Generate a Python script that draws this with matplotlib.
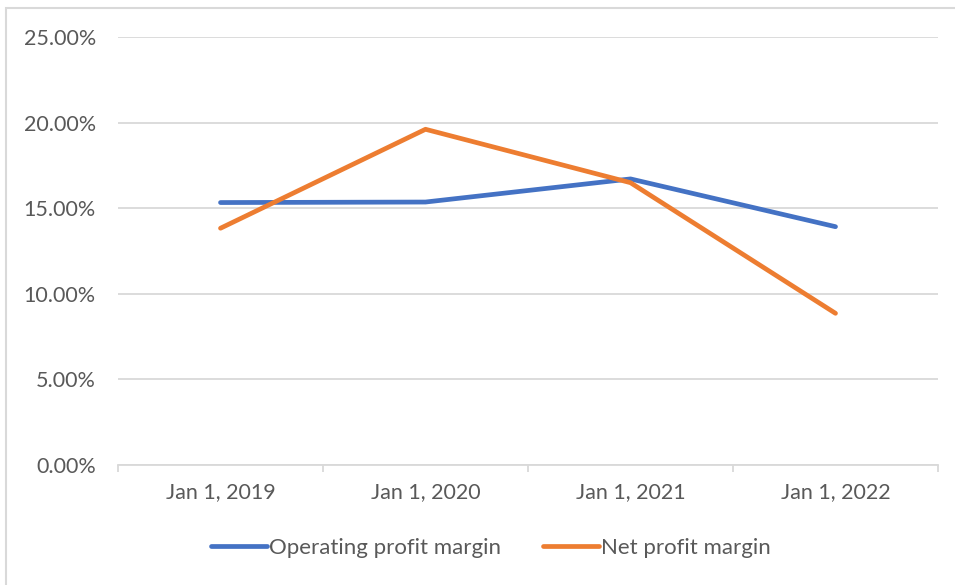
import matplotlib.pyplot as plt
from matplotlib.ticker import FuncFormatter, FixedLocator
from matplotlib.patches import Rectangle

# values (percent)
dates = ['Jan 1, 2019', 'Jan 1, 2020', 'Jan 1, 2021', 'Jan 1, 2022']
operating_margin = [15.33, 15.36, 16.71, 13.92]
net_margin = [13.83, 19.61, 16.49, 8.86]

GRID = '#d9d9d9'
TEXT = '#595959'
FS = 15.5

plt.rcParams['font.family'] = ['Lato', 'DejaVu Sans']

fig = plt.figure(figsize=(9.55, 5.85), dpi=100)
ax = fig.add_axes([118 / 955, 1 - 465 / 585, 820 / 955, 428 / 585])

x = list(range(len(dates)))
ax.plot(x, operating_margin, color='#4472C4', lw=3.4, solid_capstyle='round',
        solid_joinstyle='round', label='Operating profit margin')
ax.plot(x, net_margin, color='#ED7D31', lw=3.4, solid_capstyle='round',
        solid_joinstyle='round', label='Net profit margin')

ax.set_xlim(-0.5, len(dates) - 0.5)
ax.set_ylim(0, 25)
ax.set_yticks([0, 5, 10, 15, 20, 25])
ax.yaxis.set_major_formatter(FuncFormatter(lambda v, p: f'{v:.2f}%'))
ax.set_xticks(x)
ax.set_xticklabels(dates)
ax.xaxis.set_minor_locator(FixedLocator([i - 0.5 for i in range(len(dates) + 1)]))

ax.grid(axis='y', color=GRID, lw=1.3)
ax.set_axisbelow(True)
for side in ['top', 'right', 'left']:
    ax.spines[side].set_visible(False)
ax.spines['bottom'].set_color(GRID)
ax.spines['bottom'].set_linewidth(1.3)

ax.tick_params(axis='y', length=0, pad=16, labelsize=FS, labelcolor=TEXT)
ax.tick_params(axis='x', which='major', length=0, pad=12, labelsize=FS, labelcolor=TEXT)
ax.tick_params(axis='x', which='minor', length=5, width=1.3, color=GRID)

# chart area border (cropped on right and bottom)
fig.patches.append(Rectangle((6 / 955, -0.1), 1.2, 1.1 - 8 / 585, transform=fig.transFigure,
                             fill=False, edgecolor=GRID, lw=1.5))

fig.legend(loc='center', bbox_to_anchor=(0.514, 1 - 548 / 585), ncol=2, frameon=False,
           handlelength=2.5, handletextpad=0.1, columnspacing=1.9,
           prop={'size': 16}, labelcolor=TEXT)

plt.savefig('out.png', dpi=100)
